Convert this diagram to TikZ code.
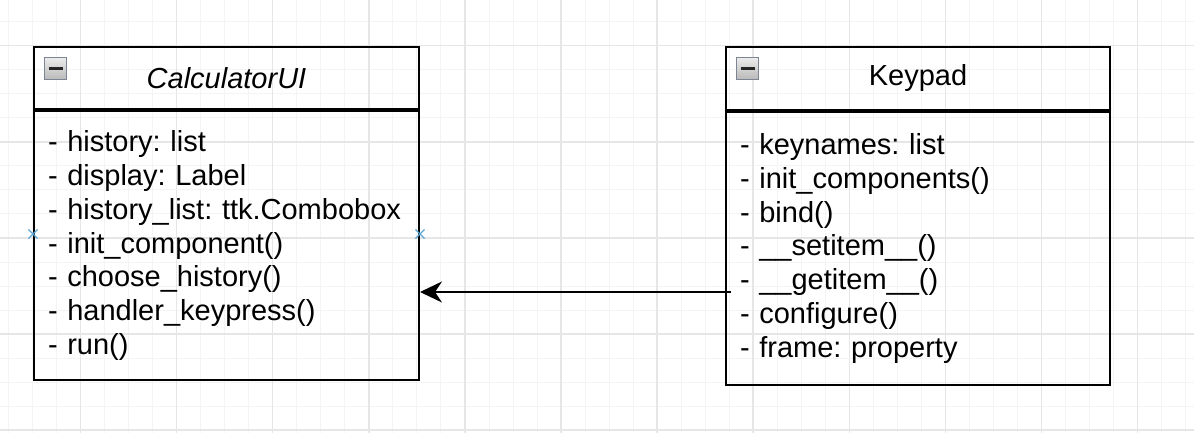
\documentclass[tikz,border=0pt]{standalone}
\usepackage{fontspec}
\setmainfont{Liberation Sans}
\usetikzlibrary{arrows.meta, positioning, shapes.misc}
\definecolor{gridminor}{HTML}{F4F4F4}
\definecolor{gridmajor}{HTML}{E6E6E6}
\definecolor{pinblue}{HTML}{5AA9D6}
\definecolor{iconedge}{HTML}{7D8494}
\frenchspacing

\begin{document}
\begin{tikzpicture}[x=0.5pt, y=-0.5pt, >={Stealth[length=11pt, width=10.5pt, inset=3.5pt]}]
    \tikzstyle{head} = [draw, line width=1pt, rectangle, minimum height=31pt,
	inner sep=0pt, font=\fontsize{14.5pt}{16.85pt}\selectfont]
    \tikzstyle{body} = [draw, line width=1pt, rectangle, inner xsep=7pt,
	inner ysep=0pt, align=left, font=\fontsize{14.5pt}{16.85pt}\selectfont\frenchspacing]
    \tikzstyle{minus} = [draw=iconedge, line width=0.6pt, rectangle, minimum size=11pt,
	inner sep=0pt, top color=gray!15, bottom color=gray!55]
    \tikzstyle{pin} = [cross out, draw=pinblue, line width=0.6pt, minimum size=4pt,
	inner sep=0pt]

	\useasboundingbox (0,0) rectangle (1194,433);
	\fill[white] (0,0) rectangle (1194,433);

	\foreach \gx in {0,...,49}
		\draw[gridminor, line width=0.5pt] ({8.4+24.03*\gx},0) -- ++(0,433);
	\foreach \gy in {0,...,18}
		\draw[gridminor, line width=0.5pt] (0,{-2.3+24.03*\gy}) -- ++(1194,0);
	\foreach \gx in {0,...,12}
		\draw[gridmajor, line width=0.75pt] ({-15.6+96.1*\gx},0) -- ++(0,433);
	\foreach \gy in {0,...,5}
		\draw[gridmajor, line width=0.75pt] (0,{-50.4+96.1*\gy}) -- ++(1194,0);

	\begin{scope}
		\node[head, minimum width=192.5pt, anchor=north west] (calcHead) at (33,46)
			{\itshape CalculatorUI};
		\node[body, text width=178.5pt, minimum height=134.5pt, below=0pt of calcHead] (calcBody)
			{- history: list\\
			 - display: Label\\
			 - history\_list: ttk.Combobox\\
			 - init\_component()\\
			 - choose\_history()\\
			 - handler\_keypress()\\
			 - run()};
		\node[minus, anchor=north west] (calcMin) at ([xshift=5.5pt, yshift=-5.5pt]calcHead.north west)
			{\color{black!85}\rule{7pt}{1.5pt}};

		\node[head, minimum width=192pt, minimum height=31.5pt, anchor=north west] (keyHead) at (725,46)
			{Keypad};
		\node[body, text width=178pt, minimum height=136.5pt, below=0pt of keyHead] (keyBody)
			{- keynames: list\\
			 - init\_components()\\
			 - bind()\\
			 - \_\_setitem\_\_()\\
			 - \_\_getitem\_\_()\\
			 - configure()\\
			 - frame: property};
		\node[minus, anchor=north west] (keyMin) at ([xshift=5.5pt, yshift=-5.5pt]keyHead.north west)
			{\color{black!85}\rule{7pt}{1.5pt}};

		\coordinate (pinrow) at (0,234);
		\node[pin] (pinL) at (calcBody.west |- pinrow) {};
		\node[pin] (pinR) at (calcBody.east |- pinrow) {};

		\coordinate (link) at (0,292);
		\draw[->, line width=1pt] ([xshift=3pt]keyBody.west |- link) -- (calcBody.east |- link);
	\end{scope}
\end{tikzpicture}
\end{document}
